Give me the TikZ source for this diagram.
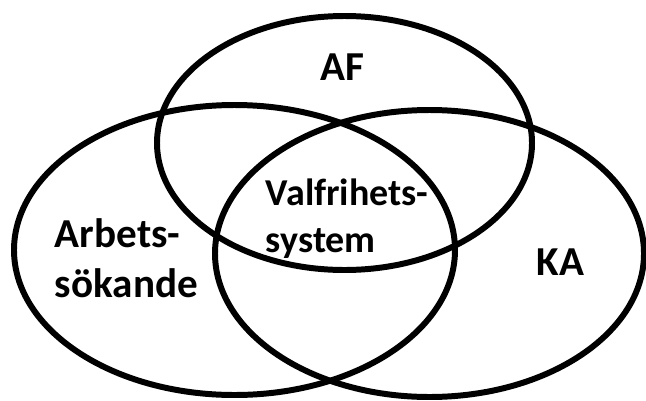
\documentclass[tikz,border=0pt]{standalone}
\usepackage{fontspec}
\setmainfont{Carlito}
\usepackage{tikz}

\tikzset{
  biglabel/.style={font=\bfseries\fontsize{11.7pt}{14.2pt}\selectfont},
  smalllabel/.style={font=\bfseries\fontsize{10.8pt}{13.1pt}\selectfont}
}

\begin{document}
\begin{tikzpicture}[x=0.01cm, y=-0.01cm, line width=1.7pt,
  every node/.style={inner sep=0pt}]
\useasboundingbox (0,0) rectangle (646,400);
\draw (344.5,143) ellipse [x radius=187.5, y radius=127];
\draw (234.5,250) ellipse [x radius=220.5, y radius=145];
\draw (429.5,253.5) ellipse [x radius=214.5, y radius=143.5];
\node[biglabel, anchor=base] (AF) at (342,80) {AF};
\node[biglabel, anchor=base west, align=left] (AS) at (52,297) {Arbets-\\sökande};
\node[smalllabel, anchor=base west, align=left] (VS) at (263,252) {Valfrihets-\\system};
\node[biglabel, anchor=base] (KA) at (560.5,275) {KA};
\end{tikzpicture}
\end{document}
